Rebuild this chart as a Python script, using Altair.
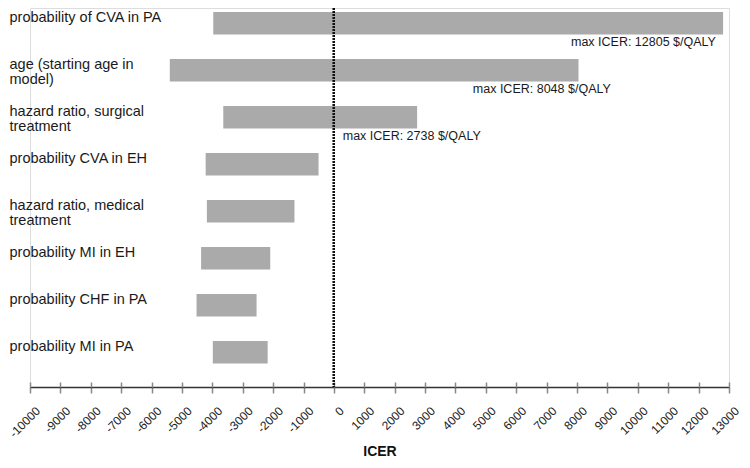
import altair as alt
import pandas as pd

# ---- data ----
params = [
    "probability of CVA in PA",
    "age (starting age in|model)",
    "hazard ratio, surgical|treatment",
    "probability CVA in EH",
    "hazard ratio, medical|treatment",
    "probability MI in EH",
    "probability CHF in PA",
    "probability MI in PA",
]
icer_low = [-3970, -5400, -3640, -4220, -4180, -4370, -4520, -3985]
icer_high = [12805, 8048, 2738, -506, -1298, -2095, -2545, -2180]

ann_params = params[:3]
ann_text = ["max ICER: 12805 $/QALY", "max ICER: 8048 $/QALY", "max ICER: 2738 $/QALY"]
ann_at = [7800, 4570, 290]  # ICER value where each note starts

tick_values = [-10000, -9000, -8000, -7000, -6000, -5000, -4000, -3000, -2000, -1000,
               0, 1000, 2000, 3000, 4000, 5000, 6000, 7000, 8000, 9000, 10000,
               11000, 12000, 13000]

bars_df = pd.DataFrame({"param": params, "low": icer_low, "high": icer_high})
ann_df = pd.DataFrame({"param": ann_params, "text": ann_text, "at": ann_at})

W, H = 699, 379
FONT = "Liberation Sans"

y_enc = alt.Y(
    "param:N",
    sort=params,
    title=None,
    scale=alt.Scale(paddingInner=0.52, paddingOuter=0.2925, align=0.145),
    axis=alt.Axis(
        domain=False, ticks=False, tickSize=0, grid=False,
        labelAlign="left", labelBaseline="top", labelPadding=21, labelOffset=-12,
        labelFontSize=14.5, labelColor="#1a1a1a", labelFont=FONT, labelLimit=400,
        labelLineHeight=15,
        labelExpr="split(datum.label, '|')",
    ),
)

x_scale = alt.Scale(domain=[-10000, 13000], nice=False, zero=False)

bars = alt.Chart(bars_df).mark_bar(color="#aaaaaa").encode(
    x=alt.X(
        "low:Q",
        scale=x_scale,
        title="ICER",
        axis=alt.Axis(
            values=tick_values, labelExpr="toString(datum.value)", grid=False,
            labelOverlap=False, labelFlush=False,
            domainColor="#333333", domainWidth=1.5,
            tickColor="#888888", tickWidth=1.5, tickSize=6,
            labelAngle=-45, labelFontSize=12, labelColor="#222222", labelFont=FONT,
            labelPadding=12, labelOffset=4,
            titleFontSize=14, titleFontWeight="bold", titleColor="#111111",
            titleFont=FONT, titlePadding=5,
        ),
    ),
    x2="high:Q",
    y=y_enc,
)

zero_line = alt.Chart(bars_df).mark_rule(
    color="#111111", strokeWidth=2, strokeDash=[2, 1]
).encode(
    x=alt.X(
        datum=0,
        type="quantitative",
        axis=alt.Axis(
            orient="top", offset=-H, values=tick_values,
            domain=False, labels=False, grid=False, title=None,
            ticks=True, tickSize=5, tickColor="#888888", tickWidth=1.5,
        ),
    ),
)

notes = alt.Chart(ann_df).mark_text(
    align="left", baseline="top", dy=13, fontSize=12.5, font=FONT, color="#1a1a1a"
).encode(
    x=alt.X("at:Q", axis=None),
    y=y_enc,
    text="text:N",
)

chart = alt.layer(bars, zero_line, notes).resolve_axis(x="independent").properties(
    width=W, height=H,
    autosize=alt.AutoSizeParams(type="none"),
    padding={"left": 22, "top": 0, "right": 13, "bottom": 76},
).configure_view(stroke=None).configure(font=FONT)

chart.save("out.html", embed_options={"renderer": "svg", "actions": False})
